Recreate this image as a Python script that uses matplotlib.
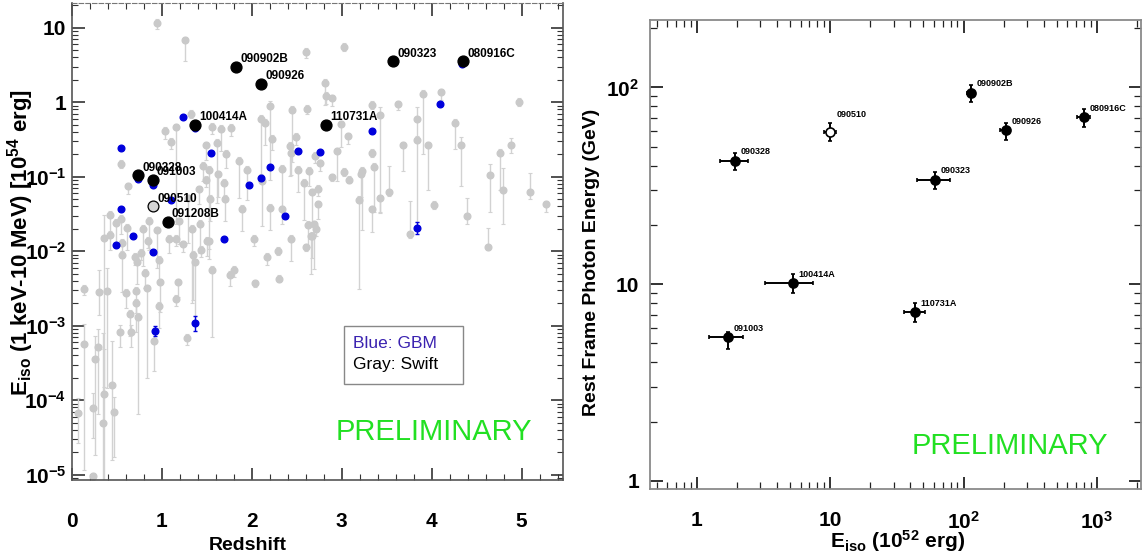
import numpy as np
import matplotlib
matplotlib.use('Agg')
import matplotlib.pyplot as plt
from matplotlib.ticker import FixedLocator, LogLocator, NullFormatter, FuncFormatter, MultipleLocator
from matplotlib.patches import Rectangle

plt.rcParams['font.family'] = ['Liberation Sans', 'DejaVu Sans']
plt.rcParams['mathtext.fontset'] = 'custom'
plt.rcParams['mathtext.rm'] = 'Liberation Sans'
plt.rcParams['mathtext.bf'] = 'Liberation Sans:bold'
plt.rcParams['mathtext.it'] = 'Liberation Sans:italic'
plt.rcParams['mathtext.default'] = 'bf'

# ---------------- Left panel data: redshift vs log10(Eiso / 1e54 erg) ----------------
gray_z = [0.94, 1.26, 2.60, 2.20, 2.45, 2.61, 2.10, 2.15, 1.32, 1.16, 1.03, 1.10, 1.56, 1.77, 1.66,
          2.22, 2.49, 2.42, 2.43, 1.49, 1.61, 1.71, 0.55, 1.86, 1.46, 1.52, 1.62, 1.95, 2.11, 2.33,
          2.51, 2.63, 2.58, 2.67, 0.62, 1.41, 1.49, 1.69, 1.70, 1.54, 1.29, 1.89, 2.20, 2.33, 0.42,
          0.55, 0.49, 0.61, 0.79, 0.86, 0.94, 1.19, 1.33, 1.42, 0.36, 0.42, 2.02, 2.62, 2.66, 1.08,
          1.16, 1.50, 0.56, 0.56, 0.70, 0.72, 0.77, 0.84, 0.97, 0.81, 0.98, 1.18, 1.16, 1.23, 1.35,
          1.37, 1.44, 1.56, 1.52, 1.76, 1.80, 2.03, 2.17, 2.29, 2.30, 2.44, 2.60, 0.13, 0.30, 0.39,
          0.60, 0.71, 0.71, 0.64, 0.73, 0.83, 0.97, 0.53, 0.66, 0.91, 1.28, 0.13, 0.29, 0.26, 0.45,
          0.36, 0.23, 0.07, 0.47, 0.35, 0.23, 3.02, 2.81, 2.82, 2.89, 2.99, 3.07, 2.95, 3.02, 3.08,
          2.89, 2.76, 2.70, 2.74, 2.73, 3.34, 3.43, 3.62, 3.90, 4.10, 3.84, 3.84, 3.68, 3.96, 3.34,
          3.36, 3.23, 3.21, 4.26, 4.33, 4.97, 4.88, 4.76, 4.65, 4.79, 5.09, 5.27, 4.39, 4.03, 3.76,
          4.63, 3.52, 3.42, 3.34, 3.19, 2.71, 2.67, 2.69]
gray_log_eiso = [1.06, 0.83, 0.67, -0.05, -0.10, -0.09, -0.22, -0.28, -0.16, -0.34, -0.39, -0.53, -0.33, -0.35, -0.36,
                 -0.49, -0.47, -0.59, -0.68, -0.58, -0.55, -0.69, -0.83, -0.79, -0.86, -0.91, -0.97, -0.91, -1.06, -0.90,
                 -0.91, -0.92, -1.08, -1.21, -1.13, -1.17, -1.04, -1.08, -1.30, -1.30, -1.29, -1.43, -1.42, -1.44, -1.51,
                 -1.57, -1.62, -1.69, -1.70, -1.59, -1.72, -1.60, -1.70, -1.63, -1.82, -1.78, -1.83, -1.65, -1.80, -1.83,
                 -1.83, -1.86, -1.89, -2.05, -2.08, -2.14, -2.02, -1.86, -2.12, -2.29, -2.42, -2.42, -2.64, -1.91, -2.05,
                 -2.15, -1.98, -2.25, -1.87, -2.32, -2.25, -2.43, -2.08, -2.00, -2.37, -1.83, -1.95, -2.51, -2.55, -2.53,
                 -2.56, -2.53, -2.69, -2.84, -2.88, -2.50, -2.73, -3.09, -3.09, -3.21, -3.16, -3.24, -3.29, -3.44, -3.80,
                 -3.91, -4.10, -4.17, -4.16, -4.30, -5.02, 0.74, 0.26, 0.08, 0.05, -0.30, -0.46, -0.66, -0.94, -1.04,
                 -1.01, -0.82, -0.72, -1.16, -1.37, -0.04, -0.17, -0.03, 0.11, 0.13, -0.22, -0.51, -0.58, -0.58, -0.68,
                 -0.87, -0.92, -0.97, -0.28, -0.57, 0.00, -0.58, -0.68, -0.98, -1.18, -1.20, -1.37, -1.53, -1.38, -1.77,
                 -1.94, -1.21, -1.29, -1.44, -1.31, -1.70, -1.79, -1.64]
gray_err_lo = [0.08, 0.28, 0.08, 1.00, 0.70, 0.07, 0.75, 0.30, 0.05, 1.30, 0.10, 0.10, 0.10, 0.10, 0.30,
               0.15, 0.10, 0.40, 0.30, 0.20, 0.80, 0.20, 0.05, 0.50, 0.20, 1.20, 0.30, 0.40, 0.60, 0.50,
               0.30, 0.20, 0.50, 0.40, 0.10, 0.20, 0.10, 0.20, 0.30, 0.30, 0.60, 0.30, 0.30, 0.20, 0.30,
               0.20, 0.30, 0.30, 0.50, 0.40, 0.50, 0.30, 1.00, 0.40, 2.00, 0.20, 0.10, 0.30, 0.50, 0.20,
               0.10, 0.20, 0.20, 0.50, 0.10, 0.30, 0.10, 0.10, 0.30, 0.20, 0.40, 0.20, 0.10, 0.10, 0.60,
               0.80, 0.10, 0.90, 0.10, 0.15, 0.10, 0.05, 0.10, 0.05, 0.05, 0.30, 0.05, 0.08, 0.30, 1.30,
               0.20, 0.30, 0.40, 0.30, 1.30, 1.20, 0.30, 0.20, 0.20, 0.40, 0.10, 1.70, 0.90, 1.30, 1.00,
               1.20, 0.40, 0.40, 0.60, 0.80, 0.05, 0.05, 0.30, 0.10, 0.10, 0.30, 0.10, 0.40, 0.05, 0.05,
               0.05, 0.10, 0.10, 0.10, 0.20, 0.05, 1.30, 0.07, 0.80, 0.10, 0.30, 1.10, 0.35, 0.60, 0.05,
               0.60, 0.80, 0.30, 0.35, 0.55, 0.05, 0.10, 0.50, 0.50, 0.45, 0.10, 0.10, 0.10, 0.05, 0.05,
               0.05, 0.05, 0.20, 0.30, 1.20, 0.10, 0.30, 0.60]
gray_err_hi = [0.05, 0.05, 0.05, 0.06, 0.05, 0.05, 0.05, 0.05, 0.05, 0.05, 0.05, 0.05, 0.05, 0.05, 0.05,
               0.05, 0.05, 0.05, 0.05, 0.05, 0.05, 0.05, 0.05, 0.05, 0.05, 0.05, 0.05, 0.05, 0.05, 0.05,
               0.05, 0.05, 0.05, 0.05, 0.05, 0.05, 0.05, 0.05, 0.05, 0.05, 0.05, 0.05, 0.05, 0.05, 0.05,
               0.05, 0.05, 0.05, 0.05, 0.05, 0.05, 0.05, 0.05, 0.05, 0.30, 0.05, 0.05, 0.05, 0.05, 0.05,
               0.05, 0.05, 0.05, 0.05, 0.05, 0.05, 0.05, 0.05, 0.05, 0.05, 0.05, 0.05, 0.05, 0.05, 0.05,
               0.05, 0.05, 0.05, 0.05, 0.05, 0.05, 0.05, 0.05, 0.05, 0.05, 0.05, 0.05, 0.05, 0.30, 0.30,
               0.05, 0.05, 0.05, 0.05, 0.05, 0.05, 0.05, 0.10, 0.10, 0.15, 0.05, 0.26, 0.25, 0.30, 0.60,
               0.60, 0.20, 0.20, 0.20, 1.20, 0.05, 0.05, 0.05, 0.05, 0.05, 0.05, 0.05, 0.05, 0.05, 0.05,
               0.05, 0.05, 0.05, 0.05, 0.05, 0.05, 0.10, 0.05, 0.05, 0.05, 0.15, 0.05, 0.05, 0.05, 0.05,
               0.05, 0.05, 0.05, 0.05, 0.10, 0.05, 0.10, 0.05, 0.15, 0.30, 0.25, 0.05, 0.25, 0.05, 0.45,
               0.25, 0.35, 0.05, 0.05, 0.05, 0.05, 0.05, 0.05]

blue_z = [4.34, 4.09, 1.237, 1.367, 3.34, 0.545, 1.545, 2.508, 2.76, 2.20, 2.10, 1.963, 0.904, 0.733,
          1.097, 0.545, 2.367, 3.84, 0.682, 1.689, 0.493, 0.904, 0.922, 1.371]
blue_log_eiso = [0.505, -0.027, -0.196, -0.35, -0.388, -0.62, -0.683, -0.651, -0.673, -0.874, -1.02, -1.11,
                 -1.11, -1.03, -1.307, -1.44, -1.526, -1.687, -1.80, -1.834, -1.92, -2.008, -3.07, -2.967]
blue_err = [0.02, 0.02, 0.02, 0.02, 0.02, 0.02, 0.02, 0.02, 0.02, 0.02, 0.02, 0.02,
            0.02, 0.02, 0.02, 0.02, 0.02, 0.08, 0.02, 0.02, 0.02, 0.02, 0.07, 0.10]

lat_names = ['080916C', '090323', '090902B', '090926', '100414A', '110731A', '090328', '091003', '091208B']
lat_z = [4.35, 3.57, 1.822, 2.106, 1.368, 2.83, 0.736, 0.897, 1.063]
lat_eiso54 = [3.54, 3.51, 2.98, 1.76, 0.50, 0.50, 0.104, 0.0914, 0.0248]
short_name = '090510'
short_z = 0.903
short_eiso54 = 0.040

# ---------------- Right panel data ----------------
r_names = ['090902B', '090510', '080916C', '090926', '090328', '090323', '100414A', '110731A', '091003']
r_eiso52 = [113, 10.0, 795, 207, 1.95, 61.3, 5.28, 43.2, 1.72]
r_eiso_lo = [7, 1.0, 87, 19, 0.45, 16.6, 2.01, 7.7, 0.48]
r_eiso_hi = [9, 1.1, 97, 17, 0.46, 17.2, 2.13, 8.1, 0.49]
r_egev = [94, 59.3, 70.3, 60.4, 42.4, 34.0, 10.1, 7.22, 5.35]
r_egev_lo = [9.5, 5.7, 7.2, 6.7, 4.4, 3.5, 1.13, 0.79, 0.67]
r_egev_hi = [8.7, 6.3, 7.0, 5.7, 4.2, 3.3, 1.10, 0.76, 0.34]
r_open = [False, True, False, False, False, False, False, False, False]

GRAY = '#c9c9c9'
BLUE = '#0000dc'
GREEN = '#22e022'

fig = plt.figure(figsize=(11.44, 5.6), dpi=100)
W, H = 1144.0, 560.0


def px_axes(x0, y0, x1, y1):
    return fig.add_axes([x0 / W, 1 - y1 / H, (x1 - x0) / W, (y1 - y0) / H])


def log_label(v, pos):
    if v <= 0:
        return ''
    k = int(round(np.log10(v)))
    if k == 0:
        return '1'
    if k == 1:
        return '10'
    return r'10$^{%d}$' % k


# ================= Left panel =================
ax1 = px_axes(72, 3, 563, 480)
ax1.set_yscale('log')
ax1.set_xlim(0, 5.46)
ax1.set_ylim(10 ** -5.07, 10 ** 1.33)

gz = np.array(gray_z)
gl = np.array(gray_log_eiso)
ge = 10 ** gl
glo = ge - 10 ** (gl - np.array(gray_err_lo))
ghi = 10 ** (gl + np.array(gray_err_hi)) - ge
ax1.errorbar(gz, ge, yerr=[glo, ghi], fmt='o', ms=4.8, color=GRAY, mec=GRAY,
             ecolor='#d2d2d2', elinewidth=1.0, capsize=1.5, capthick=0.8, zorder=2)

bz = np.array(blue_z)
bl = np.array(blue_log_eiso)
be = 10 ** bl
bel = be - 10 ** (bl - np.array(blue_err))
beh = 10 ** (bl + np.array(blue_err)) - be
ax1.errorbar(bz, be, yerr=[bel, beh], fmt='o', ms=4.8, color=BLUE, mec=BLUE,
             ecolor=BLUE, elinewidth=1.0, capsize=1.5, zorder=3)

ax1.plot(lat_z, lat_eiso54, 'o', ms=7.8, color='black', zorder=4)
ax1.plot([short_z], [short_eiso54], 'o', ms=7.8, mfc='#d4d4d4', mec='black', mew=0.9, zorder=4)
for name, zz, ee in zip(lat_names + [short_name], lat_z + [short_z], lat_eiso54 + [short_eiso54]):
    ax1.annotate(name, (zz, ee), xytext=(3, 1), textcoords='offset points',
                 ha='left', va='bottom', fontsize=8.5, fontweight='bold', color='black', zorder=5)

ax1.xaxis.set_major_locator(FixedLocator([0, 1, 2, 3, 4, 5]))
ax1.xaxis.set_minor_locator(MultipleLocator(0.2))
ax1.xaxis.set_major_formatter(FuncFormatter(lambda v, p: '%d' % round(v)))
ax1.yaxis.set_major_locator(FixedLocator([1e-5, 1e-4, 1e-3, 1e-2, 1e-1, 1, 10]))
ax1.yaxis.set_minor_locator(LogLocator(base=10, subs=np.arange(2, 10), numticks=20))
ax1.yaxis.set_major_formatter(FuncFormatter(log_label))
ax1.yaxis.set_minor_formatter(NullFormatter())
ax1.tick_params(which='both', direction='in', top=True, right=True, colors='#333333')
ax1.tick_params(which='major', length=9, width=1.2, labelsize=15)
ax1.tick_params(which='minor', length=4.5, width=0.8)
ax1.tick_params(axis='x', which='major', pad=23)
ax1.tick_params(axis='y', which='major', pad=4)
for lab in ax1.get_xticklabels() + ax1.get_yticklabels():
    lab.set_fontweight('bold')
    lab.set_color('black')
for s in ['left', 'bottom', 'right']:
    ax1.spines[s].set_color('#555555')
    ax1.spines[s].set_linewidth(1.2)
ax1.spines['top'].set_color('#777777')
ax1.spines['top'].set_linestyle((0, (4, 2)))

fig.text(248 / W, 1 - 545 / H, 'Redshift', ha='center', va='center', fontsize=14, fontweight='bold')
fig.text(21 / W, 1 - 243 / H, r'E$_{iso}$ (1 keV-10 MeV) [10$^{54}$ erg]', rotation=90,
         ha='center', va='center', fontsize=16, fontweight='bold')

fig.patches.append(Rectangle((344 / W, 1 - 384 / H), (463 - 344) / W, (384 - 326) / H,
                             transform=fig.transFigure, fill=False, edgecolor='#888888', linewidth=1.0))
fig.text(353 / W, 1 - 343 / H, 'Blue: GBM', ha='left', va='center', fontsize=12.5, color='#3a22b0')
fig.text(353 / W, 1 - 364 / H, 'Gray: Swift', ha='left', va='center', fontsize=12.5, color='black')
fig.text(434 / W, 1 - 432 / H, 'PRELIMINARY', ha='center', va='center', fontsize=21, color=GREEN)

# ================= Right panel =================
ax2 = px_axes(650, 20, 1141, 489)
ax2.set_xscale('log')
ax2.set_yscale('log')
ax2.set_xlim(0.446, 2140)
ax2.set_ylim(0.908, 220)

r_label_offsets = [(4, 3), (5, 9), (4, 3), (4, 3), (4, 3), (4, 3), (4, 3), (4, 3), (4, 3)]
for i in range(len(r_names)):
    ax2.errorbar([r_eiso52[i]], [r_egev[i]], xerr=[[r_eiso_lo[i]], [r_eiso_hi[i]]],
                 yerr=[[r_egev_lo[i]], [r_egev_hi[i]]], fmt='o', ms=6.5,
                 mfc='white' if r_open[i] else 'black', mec='black', mew=1.2,
                 ecolor='black', elinewidth=1.4, capsize=1.5, capthick=1.6, zorder=3)
    ax2.annotate(r_names[i], (r_eiso52[i], r_egev[i]), xytext=r_label_offsets[i], textcoords='offset points',
                 ha='left', va='bottom', fontsize=6.5, fontweight='bold', color='black')

ax2.xaxis.set_major_locator(FixedLocator([1, 10, 100, 1000]))
ax2.xaxis.set_minor_locator(LogLocator(base=10, subs=np.arange(2, 10), numticks=20))
ax2.yaxis.set_major_locator(FixedLocator([1, 10, 100]))
ax2.yaxis.set_minor_locator(LogLocator(base=10, subs=np.arange(2, 10), numticks=20))
ax2.xaxis.set_major_formatter(FuncFormatter(log_label))
ax2.yaxis.set_major_formatter(FuncFormatter(log_label))
ax2.xaxis.set_minor_formatter(NullFormatter())
ax2.yaxis.set_minor_formatter(NullFormatter())
ax2.tick_params(which='both', direction='in', top=True, right=True, colors='#222222')
ax2.tick_params(which='major', length=9, width=1.3, labelsize=15)
ax2.tick_params(which='minor', length=5, width=0.9)
ax2.tick_params(axis='x', which='major', pad=16)
ax2.tick_params(axis='y', which='major', pad=8)
for lab in ax2.get_xticklabels() + ax2.get_yticklabels():
    lab.set_fontweight('bold')
    lab.set_color('black')
for s in ax2.spines.values():
    s.set_color('#8a8a8a')
    s.set_linewidth(1.3)

fig.text(898 / W, 1 - 541 / H, r'E$_{iso}$ (10$^{52}$ erg)', ha='center', va='center',
         fontsize=15, fontweight='bold')
fig.text(591 / W, 1 - 262 / H, 'Rest Frame Photon Energy (GeV)', rotation=90,
         ha='center', va='center', fontsize=14, fontweight='bold')
fig.text(1010 / W, 1 - 446 / H, 'PRELIMINARY', ha='center', va='center', fontsize=21, color=GREEN)

fig.savefig('out.png', dpi=100)
